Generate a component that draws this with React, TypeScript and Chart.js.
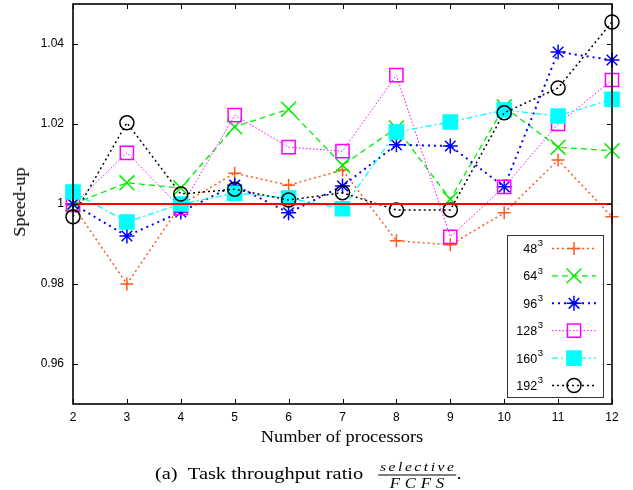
import React, { useEffect, useRef } from 'react';
import { Chart, registerables } from 'chart.js';
import { drawPoint } from 'chart.js/helpers';

Chart.register(...registerables);

// Number of processors on the x axis
const processors = [2, 3, 4, 5, 6, 7, 8, 9, 10, 11, 12];

// Speed-up (selective / FCFS) per problem size
const speedup48 = [0.9996, 0.98, 0.9998, 1.0077, 1.0047, 1.0085, 0.9908, 0.9898, 0.9978, 1.011, 0.9968];
const speedup64 = [1.0, 1.0053, 1.004, 1.0193, 1.0237, 1.0097, 1.019, 1.0012, 1.0243, 1.0142, 1.0133];
const speedup96 = [1.0, 0.992, 0.998, 1.0047, 0.9978, 1.0045, 1.0148, 1.0145, 1.0043, 1.038, 1.036];
const speedup128 = [0.9998, 1.0128, 0.999, 1.0222, 1.0142, 1.0132, 1.0322, 0.9918, 1.0043, 1.02, 1.031];
const speedup160 = [1.003, 0.9955, 1.0, 1.0027, 1.0015, 0.9988, 1.018, 1.0205, 1.0235, 1.022, 1.0262];
const speedup192 = [0.9968, 1.0203, 1.0025, 1.0037, 1.001, 1.0028, 0.9985, 0.9985, 1.0228, 1.029, 1.0455];

// Problem sizes (base of the cube) shown in the key
const sizeBases = ['48', '64', '96', '128', '160', '192'];

// Y axis tick values and the reference level
const yTicks = [0.96, 0.98, 1, 1.02, 1.04];
const baseline = 1;

type SeriesStyle = {
  color: string;
  fill: string;
  dash: number[];
  width: number;
  pointStyle: string;
  radius: number;
};

const styles: SeriesStyle[] = [
  { color: '#ff5a1e', fill: 'rgba(0,0,0,0)', dash: [2, 3], width: 1.5, pointStyle: 'cross', radius: 6.5 },
  { color: '#00ee00', fill: 'rgba(0,0,0,0)', dash: [6, 4], width: 1.3, pointStyle: 'crossRot', radius: 10.5 },
  { color: '#0000ff', fill: 'rgba(0,0,0,0)', dash: [2, 4], width: 2, pointStyle: 'star', radius: 7.5 },
  { color: '#ff00ff', fill: 'rgba(0,0,0,0)', dash: [1.5, 2], width: 1, pointStyle: 'rect', radius: 9.3 },
  { color: '#00ffff', fill: '#00ffff', dash: [6, 3, 2, 3], width: 1.3, pointStyle: 'rect', radius: 10 },
  { color: '#000000', fill: 'rgba(0,0,0,0)', dash: [2, 3], width: 1.5, pointStyle: 'circle', radius: 7 },
];

const seriesValues = [speedup48, speedup64, speedup96, speedup128, speedup160, speedup192];

const frameAndTicks = {
  id: 'frameAndTicks',
  afterDatasetsDraw(chart: any) {
    const { ctx, chartArea: a, scales } = chart;
    ctx.save();
    ctx.strokeStyle = '#000';
    ctx.lineWidth = 1;
    ctx.setLineDash([]);
    const len = 5;
    ctx.beginPath();
    scales.x.ticks.forEach((t: any) => {
      const px = Math.round(scales.x.getPixelForValue(t.value)) + 0.5;
      ctx.moveTo(px, a.bottom);
      ctx.lineTo(px, a.bottom - len);
      ctx.moveTo(px, a.top);
      ctx.lineTo(px, a.top + len);
    });
    scales.y.ticks.forEach((t: any) => {
      const py = Math.round(scales.y.getPixelForValue(t.value)) + 0.5;
      ctx.moveTo(a.left, py);
      ctx.lineTo(a.left + len, py);
      ctx.moveTo(a.right, py);
      ctx.lineTo(a.right - len, py);
    });
    ctx.stroke();
    ctx.lineWidth = 1.6;
    ctx.strokeRect(a.left, a.top, a.right - a.left, a.bottom - a.top);
    ctx.restore();
  },
};

const sizeKey = {
  id: 'sizeKey',
  afterDraw(chart: any) {
    const { ctx, chartArea: a } = chart;
    const left = a.right - 105;
    const right = a.right - 9;
    const top = a.top + 231;
    const bottom = a.bottom - 7;
    ctx.save();
    ctx.fillStyle = '#fff';
    ctx.fillRect(left, top, right - left, bottom - top);
    ctx.strokeStyle = '#333';
    ctx.lineWidth = 1;
    ctx.setLineDash([]);
    ctx.strokeRect(left + 0.5, top + 0.5, right - left, bottom - top);

    const rowH = 27.4;
    const textRight = left + 36;
    const lineStart = left + 45;
    const lineEnd = left + 89;
    sizeBases.forEach((base, i) => {
      const st = styles[i];
      const y = top + 13.5 + i * rowH;
      ctx.fillStyle = '#000';
      ctx.textBaseline = 'middle';
      ctx.textAlign = 'right';
      ctx.font = '9.5px "Liberation Sans"';
      const supW = ctx.measureText('3').width;
      ctx.fillText('3', textRight, y - 5);
      ctx.font = '12.5px "Liberation Sans"';
      ctx.fillText(base, textRight - supW - 0.5, y + 1);

      ctx.strokeStyle = st.color;
      ctx.lineWidth = st.width;
      ctx.setLineDash(st.dash);
      ctx.beginPath();
      ctx.moveTo(lineStart, y);
      ctx.lineTo(lineEnd, y);
      ctx.stroke();
      ctx.setLineDash([]);
      ctx.fillStyle = st.fill;
      ctx.strokeStyle = st.color;
      ctx.lineWidth = 1.5;
      drawPoint(ctx, { pointStyle: st.pointStyle, radius: st.radius, rotation: 0, borderWidth: 1.5 } as any, (lineStart + lineEnd) / 2, y);
    });
    ctx.restore();
  },
};

export default function App() {
  const canvasRef = useRef<HTMLCanvasElement | null>(null);

  useEffect(() => {
    const canvas = canvasRef.current;
    if (!canvas) return;

    const datasets: any[] = seriesValues.map((vals, i) => {
      const st = styles[i];
      return {
        label: sizeBases[i] + '³',
        data: processors.map((p, j) => ({ x: p, y: vals[j] })),
        borderColor: st.color,
        borderWidth: st.width,
        borderDash: st.dash,
        pointStyle: st.pointStyle,
        pointRadius: st.radius,
        pointBorderColor: st.color,
        pointBackgroundColor: st.fill,
        pointBorderWidth: 1.5,
        tension: 0,
        fill: false,
        clip: false,
        order: 6 - i,
      };
    });
    datasets.push({
      label: 'baseline',
      data: [
        { x: processors[0], y: baseline },
        { x: processors[processors.length - 1], y: baseline },
      ],
      borderColor: '#ff0000',
      borderWidth: 2,
      pointRadius: 0,
      fill: false,
      order: 0,
    });

    const chart = new Chart(canvas, {
      type: 'line',
      data: { datasets },
      options: {
        responsive: false,
        animation: false,
        devicePixelRatio: 1,
        layout: { autoPadding: false, padding: { left: 0, right: 21, top: 4, bottom: 0 } },
        plugins: { legend: { display: false }, tooltip: { enabled: false } },
        scales: {
          x: {
            type: 'linear',
            min: 2,
            max: 12,
            grid: { display: false, drawTicks: false },
            border: { display: false },
            ticks: {
              stepSize: 1,
              padding: 6,
              color: '#000',
              font: { family: '"Liberation Sans"', size: 12 },
            },
            afterFit(scale: any) {
              scale.height = 86;
              scale.paddingLeft = 0;
              scale.paddingRight = 0;
            },
          },
          y: {
            type: 'linear',
            min: 0.95,
            max: 1.05,
            grid: { display: false, drawTicks: false },
            border: { display: false },
            afterBuildTicks(scale: any) {
              scale.ticks = yTicks.map((v) => ({ value: v }));
            },
            ticks: {
              padding: 9,
              color: '#000',
              font: { family: '"Liberation Sans"', size: 12 },
              callback: (v: any) => (Number(v) === 1 ? '1' : Number(v).toFixed(2)),
            },
            afterFit(scale: any) {
              scale.width = 73;
              scale.paddingTop = 0;
              scale.paddingBottom = 0;
            },
          },
        },
      },
      plugins: [frameAndTicks, sizeKey],
    });

    return () => chart.destroy();
  }, []);

  const serif = '"Liberation Serif", "Times New Roman", serif';

  return (
    <div style={{ position: 'absolute', left: 0, top: 0, width: 633, height: 490, background: '#fff' }}>
      <canvas ref={canvasRef} width={633} height={490} style={{ display: 'block' }} />
      <div
        style={{
          position: 'absolute',
          left: 20,
          top: 202,
          transform: 'translate(-50%, -50%) rotate(-90deg) scaleX(1.15)',
          fontFamily: serif,
          fontSize: 16,
          whiteSpace: 'nowrap',
          color: '#000',
        }}
      >
        Speed-up
      </div>
      <div
        style={{
          position: 'absolute',
          left: 342,
          top: 437,
          transform: 'translate(-50%, -50%) scaleX(1.15)',
          fontFamily: serif,
          fontSize: 16,
          whiteSpace: 'nowrap',
          color: '#000',
        }}
      >
        Number of processors
      </div>
      <div
        style={{
          position: 'absolute',
          left: 155,
          top: 473,
          transform: 'translateY(-50%) scaleX(1.2)',
          transformOrigin: 'left center',
          display: 'flex',
          alignItems: 'center',
          fontFamily: serif,
          fontSize: 17,
          whiteSpace: 'nowrap',
          color: '#000',
        }}
      >
        <span>(a)&nbsp;&nbsp;Task throughput ratio</span>
        <span
          style={{
            display: 'inline-flex',
            flexDirection: 'column',
            alignItems: 'center',
            lineHeight: 1,
            marginLeft: 12,
            marginTop: 4,
          }}
        >
          <span style={{ fontStyle: 'italic', fontSize: 13, letterSpacing: 2.1, paddingLeft: 2, paddingBottom: 2, borderBottom: '1.5px solid #000' }}>
            selective
          </span>
          <span style={{ fontStyle: 'italic', fontSize: 14, letterSpacing: 4, paddingLeft: 4, paddingTop: 1 }}>FCFS</span>
        </span>
        <span>.</span>
      </div>
    </div>
  );
}
